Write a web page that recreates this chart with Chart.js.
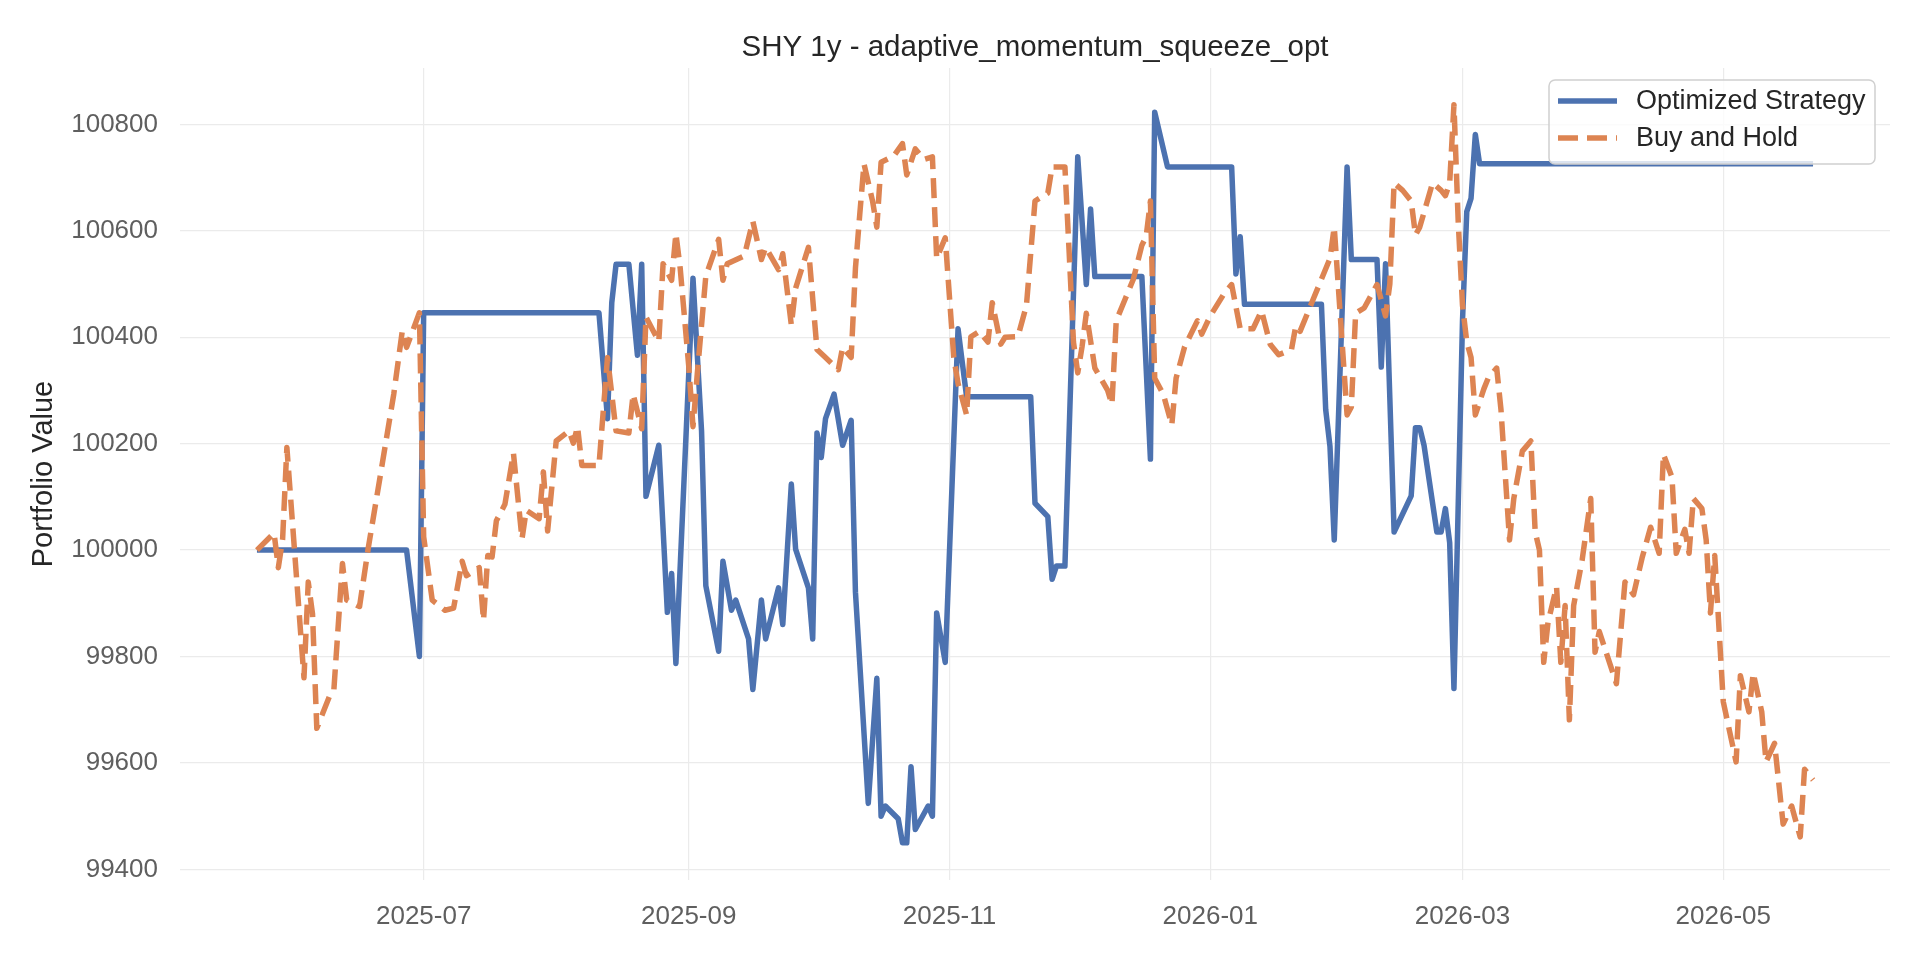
<!DOCTYPE html>
<html lang="en">
<head>
  <meta charset="UTF-8">
  <title>SHY 1y - adaptive_momentum_squeeze_opt</title>
  <script src="https://cdn.jsdelivr.net/npm/chart.js"></script>
  <style>
    html, body {
      margin: 0;
      padding: 0;
      background: #ffffff;
    }
    canvas {
      display: block;
    }
  </style>
</head>
<body>
  <canvas id="myChart" width="1920" height="960"></canvas>

  <script>
    // Optimized Strategy (flat stretches only need their end points)
    const strategyDates = [
      '2025-05-23', '2025-06-27', '2025-06-30', '2025-07-01', '2025-08-11', '2025-08-13', '2025-08-14', '2025-08-15',
      '2025-08-18', '2025-08-20', '2025-08-21', '2025-08-22', '2025-08-25', '2025-08-27', '2025-08-28', '2025-08-29',
      '2025-09-02', '2025-09-04', '2025-09-05', '2025-09-08', '2025-09-09', '2025-09-11', '2025-09-12', '2025-09-15',
      '2025-09-16', '2025-09-18', '2025-09-19', '2025-09-22', '2025-09-23', '2025-09-25', '2025-09-26', '2025-09-29',
      '2025-09-30', '2025-10-01', '2025-10-02', '2025-10-03', '2025-10-05', '2025-10-07', '2025-10-09', '2025-10-10',
      '2025-10-13', '2025-10-15', '2025-10-16', '2025-10-17', '2025-10-20', '2025-10-21', '2025-10-22', '2025-10-23',
      '2025-10-24', '2025-10-27', '2025-10-28', '2025-10-29', '2025-10-31', '2025-11-03', '2025-11-05', '2025-11-20',
      '2025-11-21', '2025-11-24', '2025-11-25', '2025-11-26', '2025-11-28', '2025-12-01', '2025-12-03', '2025-12-04',
      '2025-12-05', '2025-12-16', '2025-12-18', '2025-12-19', '2025-12-22', '2026-01-06', '2026-01-07', '2026-01-08',
      '2026-01-09', '2026-01-27', '2026-01-28', '2026-01-29', '2026-01-30', '2026-02-02', '2026-02-03', '2026-02-09',
      '2026-02-10', '2026-02-11', '2026-02-13', '2026-02-17', '2026-02-18', '2026-02-19', '2026-02-20', '2026-02-23',
      '2026-02-24', '2026-02-25', '2026-02-26', '2026-02-27', '2026-03-01', '2026-03-02', '2026-03-03', '2026-03-04',
      '2026-03-05', '2026-05-22'
    ];
    const strategyValues = [
      100000, 100000, 99800, 100446, 100446, 100247, 100465, 100537,
      100537, 100366, 100537, 100101, 100197, 99883, 99956, 99787,
      100511, 100224, 99933, 99810, 99979, 99887, 99906, 99833,
      99738, 99906, 99833, 99929, 99860, 100124, 100002, 99929,
      99833, 100220, 100174, 100247, 100293, 100197, 100244, 99921,
      99524, 99759, 99500, 99519, 99495, 99450, 99450, 99593,
      99475, 99519, 99500, 99882, 99789, 100416, 100288, 100288,
      100088, 100063, 99945, 99970, 99970, 100739, 100499, 100641,
      100514, 100514, 100171, 100823, 100720, 100720, 100519, 100589,
      100462, 100462, 100264, 100195, 100019, 100720, 100546, 100546,
      100344, 100538, 100034, 100102, 100230, 100230, 100197, 100034,
      100034, 100078, 100014, 99740, 100431, 100636, 100661, 100781,
      100726, 100726
    ];

    // Buy and Hold
    const holdDates = [
      '2025-05-23', '2025-05-27', '2025-05-28', '2025-05-29', '2025-05-30', '2025-06-03', '2025-06-04', '2025-06-05',
      '2025-06-06', '2025-06-09', '2025-06-10', '2025-06-12', '2025-06-13', '2025-06-16', '2025-06-18', '2025-06-21',
      '2025-06-24', '2025-06-26', '2025-06-27', '2025-06-30', '2025-07-01', '2025-07-03', '2025-07-06', '2025-07-08',
      '2025-07-10', '2025-07-11', '2025-07-14', '2025-07-15', '2025-07-16', '2025-07-17', '2025-07-18', '2025-07-20',
      '2025-07-22', '2025-07-24', '2025-07-25', '2025-07-28', '2025-07-29', '2025-07-30', '2025-08-01', '2025-08-04',
      '2025-08-05', '2025-08-06', '2025-08-07', '2025-08-11', '2025-08-13', '2025-08-15', '2025-08-18', '2025-08-19',
      '2025-08-21', '2025-08-22', '2025-08-25', '2025-08-26', '2025-08-28', '2025-08-29', '2025-08-30', '2025-09-01',
      '2025-09-02', '2025-09-03', '2025-09-05', '2025-09-08', '2025-09-09', '2025-09-10', '2025-09-14', '2025-09-16',
      '2025-09-18', '2025-09-19', '2025-09-22', '2025-09-23', '2025-09-25', '2025-09-26', '2025-09-29', '2025-10-01',
      '2025-10-03', '2025-10-06', '2025-10-07', '2025-10-09', '2025-10-10', '2025-10-11', '2025-10-12', '2025-10-14',
      '2025-10-15', '2025-10-16', '2025-10-19', '2025-10-21', '2025-10-22', '2025-10-24', '2025-10-26', '2025-10-28',
      '2025-10-29', '2025-10-31', '2025-11-02', '2025-11-03', '2025-11-05', '2025-11-06', '2025-11-08', '2025-11-10',
      '2025-11-11', '2025-11-13', '2025-11-14', '2025-11-17', '2025-11-19', '2025-11-21', '2025-11-24', '2025-11-25',
      '2025-11-28', '2025-11-29', '2025-11-30', '2025-12-01', '2025-12-02', '2025-12-03', '2025-12-05', '2025-12-08',
      '2025-12-09', '2025-12-10', '2025-12-12', '2025-12-14', '2025-12-16', '2025-12-17', '2025-12-18', '2025-12-19',
      '2025-12-21', '2025-12-23', '2025-12-24', '2025-12-26', '2025-12-29', '2025-12-30', '2026-01-01', '2026-01-04',
      '2026-01-06', '2026-01-08', '2026-01-11', '2026-01-13', '2026-01-15', '2026-01-17', '2026-01-20', '2026-01-21',
      '2026-01-22', '2026-01-25', '2026-01-29', '2026-01-30', '2026-02-02', '2026-02-03', '2026-02-04', '2026-02-06',
      '2026-02-09', '2026-02-10', '2026-02-11', '2026-02-12', '2026-02-13', '2026-02-15', '2026-02-17', '2026-02-18',
      '2026-02-19', '2026-02-22', '2026-02-24', '2026-02-25', '2026-02-26', '2026-02-27', '2026-02-28', '2026-03-01',
      '2026-03-02', '2026-03-03', '2026-03-04', '2026-03-06', '2026-03-07', '2026-03-09', '2026-03-10', '2026-03-12',
      '2026-03-13', '2026-03-15', '2026-03-17', '2026-03-18', '2026-03-19', '2026-03-20', '2026-03-21', '2026-03-23',
      '2026-03-24', '2026-03-25', '2026-03-26', '2026-03-27', '2026-03-29', '2026-03-31', '2026-04-01', '2026-04-02',
      '2026-04-06', '2026-04-08', '2026-04-10', '2026-04-12', '2026-04-14', '2026-04-16', '2026-04-17', '2026-04-19',
      '2026-04-20', '2026-04-22', '2026-04-23', '2026-04-24', '2026-04-26', '2026-04-27', '2026-04-28', '2026-04-29',
      '2026-05-01', '2026-05-04', '2026-05-05', '2026-05-07', '2026-05-08', '2026-05-10', '2026-05-11', '2026-05-13',
      '2026-05-15', '2026-05-17', '2026-05-19', '2026-05-20', '2026-05-22'
    ];
    const holdValues = [
      100000, 100032, 99967, 100020, 100193, 99760, 99940, 99880,
      99665, 99726, 99738, 99975, 99906, 99894, 100002, 100147,
      100293, 100412, 100381, 100446, 100025, 99906, 99887, 99891,
      99979, 99952, 99967, 99868, 99990, 99987, 100055, 100086,
      100182, 100021, 100075, 100059, 100147, 100036, 100205, 100224,
      100201, 100232, 100159, 100159, 100362, 100224, 100220, 100293,
      100228, 100438, 100392, 100538, 100507, 100595, 100530, 100346,
      100232, 100331, 100515, 100584, 100507, 100538, 100553, 100618,
      100546, 100569, 100527, 100557, 100423, 100492, 100569, 100377,
      100362, 100339, 100381, 100362, 100530, 100630, 100726, 100656,
      100607, 100729, 100741, 100764, 100705, 100754, 100734, 100739,
      100548, 100587, 100362, 100313, 100254, 100401, 100411, 100391,
      100465, 100387, 100400, 100401, 100460, 100656, 100671, 100720,
      100720, 100558, 100391, 100333, 100382, 100445, 100342, 100300,
      100274, 100431, 100470, 100509, 100573, 100589, 100656, 100323,
      100293, 100235, 100323, 100382, 100431, 100406, 100440, 100479,
      100499, 100416, 100416, 100450, 100387, 100367, 100377, 100421,
      100411, 100470, 100548, 100607, 100254, 100269, 100445, 100455,
      100499, 100470, 100440, 100500, 100690, 100676, 100656, 100592,
      100607, 100690, 100676, 100666, 100690, 100837, 100617, 100460,
      100391, 100362, 100254, 100303, 100323, 100342, 100264, 100019,
      100097, 100186, 100205, 100034, 100000, 99789, 99864, 99931,
      99789, 99896, 99681, 99896, 99982, 100097, 99808, 99847,
      99749, 99940, 99916, 99985, 100043, 99994, 100180, 100137,
      99994, 100039, 99994, 100097, 100078, 100019, 99882, 99990,
      99715, 99602, 99764, 99696, 99769, 99696, 99602, 99637,
      99485, 99519, 99461, 99588, 99568
    ];

    // Axis ticks
    const xTickMonths = ['2025-07', '2025-09', '2025-11', '2026-01', '2026-03', '2026-05'];
    const yTickValues = [99400, 99600, 99800, 100000, 100200, 100400, 100600, 100800];

    const toPoints = (dates, values) => dates.map((d, i) => ({ x: Date.parse(d), y: values[i] }));

    const fontFamily = '"Liberation Sans", Arial, Helvetica, sans-serif';
    Chart.defaults.font.family = fontFamily;

    // Legend box in the upper right corner, like matplotlib's
    const boxLegend = {
      id: 'boxLegend',
      afterDraw(chart) {
        const ctx = chart.ctx;
        const x = 1549, y = 80, w = 326, h = 84, r = 6;
        ctx.save();
        ctx.beginPath();
        ctx.moveTo(x + r, y);
        ctx.arcTo(x + w, y, x + w, y + h, r);
        ctx.arcTo(x + w, y + h, x, y + h, r);
        ctx.arcTo(x, y + h, x, y, r);
        ctx.arcTo(x, y, x + w, y, r);
        ctx.closePath();
        ctx.fillStyle = 'rgba(255,255,255,0.8)';
        ctx.fill();
        ctx.strokeStyle = '#d0d0d0';
        ctx.lineWidth = 1.5;
        ctx.stroke();

        const rows = [101, 138];
        chart.data.datasets.forEach((ds, i) => {
          const ry = rows[i];
          ctx.beginPath();
          ctx.setLineDash(ds.borderDash || []);
          ctx.lineCap = 'butt';
          ctx.strokeStyle = ds.borderColor;
          ctx.lineWidth = ds.borderWidth;
          ctx.moveTo(1558, ry);
          ctx.lineTo(1617, ry);
          ctx.stroke();
          ctx.setLineDash([]);
          ctx.fillStyle = '#262626';
          ctx.font = '27px ' + fontFamily;
          ctx.textBaseline = 'middle';
          ctx.textAlign = 'left';
          ctx.fillText(ds.label, 1636, ry + 1);
        });
        ctx.restore();
      }
    };

    const ctx = document.getElementById('myChart').getContext('2d');
    const myChart = new Chart(ctx, {
      type: 'line',
      data: {
        datasets: [{
          label: 'Optimized Strategy',
          data: toPoints(strategyDates, strategyValues),
          borderColor: '#4c72b0',
          backgroundColor: '#4c72b0',
          borderWidth: 5.5,
          borderJoinStyle: 'round',
          pointRadius: 0,
          tension: 0,
          fill: false,
          order: 1
        }, {
          label: 'Buy and Hold',
          data: toPoints(holdDates, holdValues),
          borderColor: '#dd8452',
          backgroundColor: '#dd8452',
          borderWidth: 5.5,
          borderDash: [20, 9],
          borderJoinStyle: 'round',
          pointRadius: 0,
          tension: 0,
          fill: false,
          order: 0
        }]
      },
      options: {
        responsive: false,
        animation: false,
        devicePixelRatio: 1,
        layout: {
          padding: { left: 0, right: 30, top: 0, bottom: 0 }
        },
        plugins: {
          legend: { display: false },
          tooltip: { enabled: false },
          title: {
            display: true,
            fullSize: false,
            text: 'SHY 1y - adaptive_momentum_squeeze_opt',
            color: '#262626',
            font: { size: 29.5, weight: 'normal' },
            padding: { top: 30, bottom: 2.6 }
          }
        },
        scales: {
          x: {
            type: 'linear',
            min: Date.parse('2025-05-05'),
            max: Date.parse('2026-06-09'),
            afterBuildTicks: scale => {
              scale.ticks = xTickMonths.map(m => ({ value: Date.parse(m + '-01') }));
            },
            afterFit: scale => { scale.height = 80; },
            border: { display: false },
            grid: { color: '#ebebeb', lineWidth: 1.2, drawTicks: false },
            ticks: {
              color: '#5f5f5f',
              font: { size: 26 },
              padding: 21,
              maxRotation: 0,
              autoSkip: false,
              callback: value => {
                const d = new Date(value);
                return d.getUTCFullYear() + '-' + String(d.getUTCMonth() + 1).padStart(2, '0');
              }
            }
          },
          y: {
            min: 99380,
            max: 100906,
            afterBuildTicks: scale => {
              scale.ticks = yTickValues.map(v => ({ value: v }));
            },
            afterFit: scale => { scale.width = 180; },
            border: { display: false },
            grid: { color: '#ebebeb', lineWidth: 1.2, drawTicks: false },
            ticks: {
              color: '#5f5f5f',
              font: { size: 26 },
              padding: 22,
              callback: value => String(value)
            },
            title: {
              display: true,
              text: 'Portfolio Value',
              color: '#262626',
              font: { size: 29 },
              padding: { top: 27, bottom: 0 }
            }
          }
        }
      },
      plugins: [boxLegend]
    });
  </script>
</body>
</html>
